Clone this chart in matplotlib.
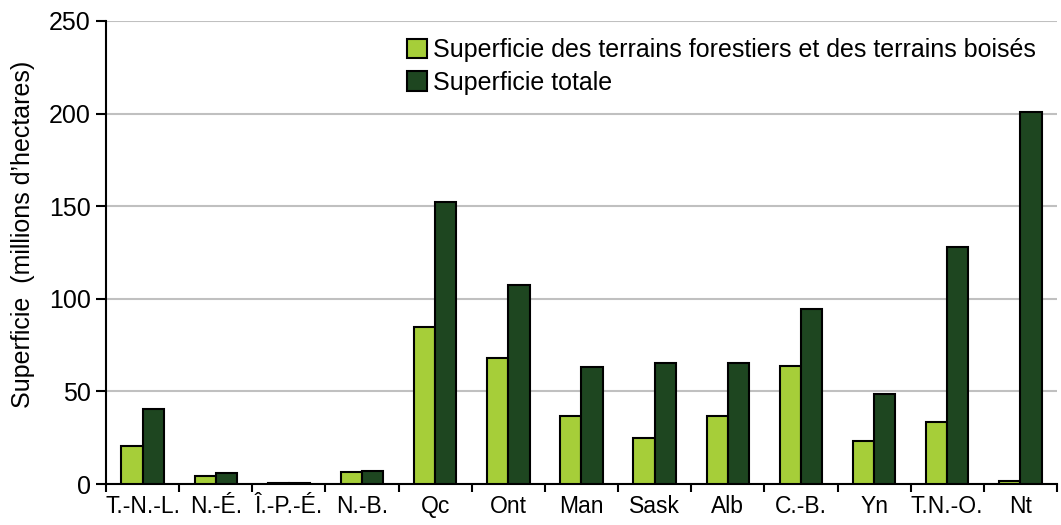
import numpy as np
import matplotlib.pyplot as plt

plt.rcParams['font.family'] = ['Liberation Sans', 'DejaVu Sans']

provinces = ["T.-N.-L.", "N.-É.", "Î.-P.-É.", "N.-B.", "Qc", "Ont", "Man",
             "Sask", "Alb", "C.-B.", "Yn", "T.N.-O.", "Nt"]
forest_area = [20.6, 4.3, 0.3, 6.5, 84.7, 68.3, 36.6, 24.7, 36.6, 64.0, 23.1, 33.5, 1.5]
total_area = [40.5, 5.9, 0.6, 7.3, 152.1, 107.6, 63.4, 65.6, 65.6, 94.6, 48.4, 128.2, 200.9]

green_light = "#a6ce39"
green_dark = "#1e4620"

fig = plt.figure(figsize=(10.61, 5.25), dpi=100)
ax = fig.add_axes([0.0999, 0.078, 0.8963, 0.882])

x = np.arange(len(provinces))
w = 0.29
ax.bar(x - w / 2, forest_area, w, color=green_light, edgecolor="black", linewidth=1.5,
       label="Superficie des terrains forestiers et des terrains boisés", zorder=3)
ax.bar(x + w / 2, total_area, w, color=green_dark, edgecolor="black", linewidth=1.5,
       label="Superficie totale", zorder=3)

ax.set_xlim(-0.5, len(provinces) - 0.5)
ax.set_ylim(0, 250)
ax.set_yticks(np.arange(0, 251, 50))
ax.yaxis.grid(True, color="#c0c0c0", linewidth=1.5, zorder=0)
ax.set_axisbelow(True)

# category labels centred, tick marks on the boundaries
ax.set_xticks(x)
ax.set_xticklabels(provinces)
ax.tick_params(axis="x", which="major", length=0, pad=8, labelsize=16.5)
ax.set_xticks(np.arange(-0.5, len(provinces)), minor=True)
ax.tick_params(axis="x", which="minor", length=6, width=1.5, direction="out")
ax.tick_params(axis="y", length=7, width=1.5, labelsize=18, pad=4)

for s in ["top", "right"]:
    ax.spines[s].set_visible(False)
ax.spines["left"].set_linewidth(1.5)
ax.spines["bottom"].set_linewidth(1.5)

ax.set_ylabel("Superficie  (millions d’hectares)", fontsize=18, labelpad=9)
ax.yaxis.set_label_coords(-0.075, 0.54)

ax.legend(loc="upper left", bbox_to_anchor=(0.306, 0.985), frameon=False, fontsize=18,
          handlelength=0.8, handleheight=0.8, handletextpad=0.25, labelspacing=0.35,
          borderaxespad=0)

fig.savefig("out.png", dpi=100)
